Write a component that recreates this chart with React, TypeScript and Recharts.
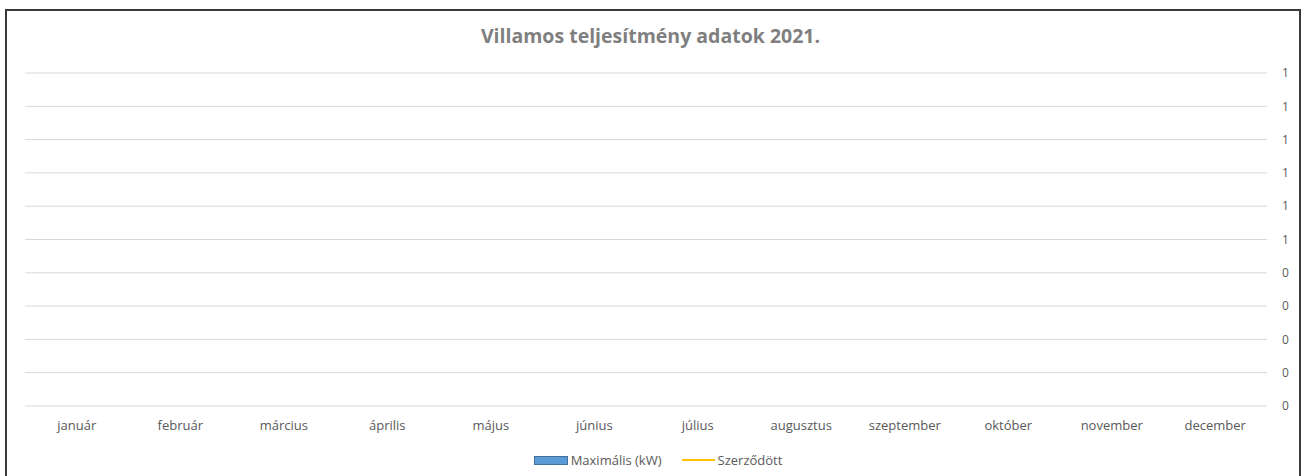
import { Bar, ComposedChart, CartesianGrid, Legend, Line, XAxis, YAxis } from "recharts";

const months = [
  "január",
  "február",
  "március",
  "április",
  "május",
  "június",
  "július",
  "augusztus",
  "szeptember",
  "október",
  "november",
  "december",
];

// the sheet has no values yet, every month is empty
const maxKw: (number | null)[] = [null, null, null, null, null, null, null, null, null, null, null, null];
const contracted: (number | null)[] = [null, null, null, null, null, null, null, null, null, null, null, null];

const yTicks = [0, 0.1, 0.2, 0.3, 0.4, 0.5, 0.6, 0.7, 0.8, 0.9, 1];

const data = months.map((m, i) => ({ month: m, max: maxKw[i], contracted: contracted[i] }));

const FONT = "'Open Sans', Lato, sans-serif";

function LegendContent() {
  return (
    <div
      style={{
        display: "flex",
        justifyContent: "center",
        alignItems: "center",
        paddingTop: 5,
        fontFamily: FONT,
        fontSize: 13,
        color: "#595959",
      }}
    >
      <span style={{ display: "inline-block", width: 32, height: 7, background: "#5b9bd5", border: "1px solid #41719c", marginRight: 3 }} />
      <span style={{ marginRight: 20 }}>Maximális (kW)</span>
      <span style={{ display: "inline-block", width: 33, height: 2, background: "#ffc000", marginRight: 3 }} />
      <span>Szerződött</span>
    </div>
  );
}

export default function App() {
  return (
    <div style={{ position: "absolute", left: 0, top: 0, width: 1301, height: 476, background: "#fff" }}>
      <div
        style={{
          position: "absolute",
          left: 5,
          top: 9,
          width: 1292,
          height: 470,
          borderLeft: "2px solid #3a3a3a",
          borderTop: "2px solid #3a3a3a",
          borderRight: "2px solid #3a3a3a",
        }}
      />
      <div
        style={{
          position: "absolute",
          left: 0,
          top: 22,
          width: 1301,
          textAlign: "center",
          fontFamily: FONT,
          fontWeight: "bold",
          fontSize: 19.5,
          color: "#7f7f7f",
        }}
      >
        Villamos teljesítmény adatok 2021.
      </div>
      <ComposedChart width={1301} height={476} data={data} margin={{ top: 73, right: 10, bottom: 2, left: 25 }}>
        <CartesianGrid vertical={false} stroke="#d9d9d9" />
        <XAxis
          dataKey="month"
          axisLine={false}
          tickLine={{ stroke: "transparent" }}
          tickSize={6}
          tickMargin={9}
          height={40}
          tick={{ fill: "#595959", fontSize: 13, fontFamily: FONT }}
          interval={0}
        />
        <YAxis
          type="number"
          orientation="right"
          domain={[0, 1]}
          allowDataOverflow
          ticks={yTicks}
          interval={0}
          tickFormatter={(v: number) => String(Math.round(v))}
          axisLine={false}
          tickLine={{ stroke: "transparent" }}
          tickSize={6}
          tickMargin={9}
          width={24}
          tick={{ fill: "#595959", fontSize: 12, fontFamily: FONT }}
        />
        <Legend verticalAlign="bottom" height={28} content={() => <LegendContent />} />
        <Bar dataKey="max" name="Maximális (kW)" fill="#5b9bd5" isAnimationActive={false} />
        <Line dataKey="contracted" name="Szerződött" stroke="#ffc000" strokeWidth={2} dot={false} isAnimationActive={false} />
      </ComposedChart>
    </div>
  );
}
